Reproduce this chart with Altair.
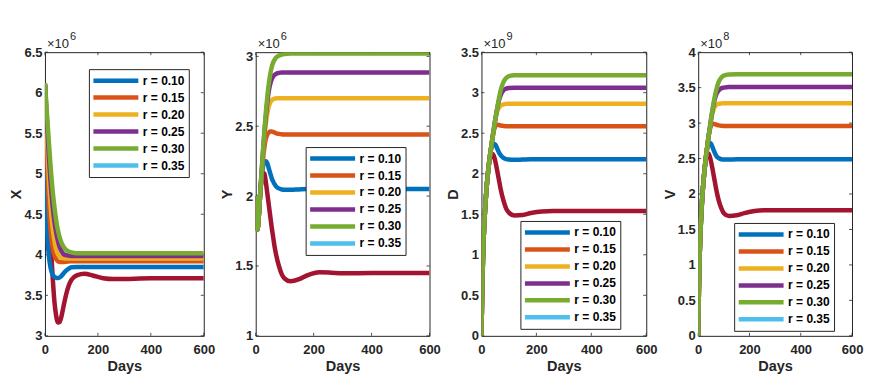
import altair as alt
import pandas as pd

# ---------------- data ----------------
T = [0, 3, 6, 10, 15, 20, 25, 30, 35, 40, 45, 50, 55, 60, 65, 70, 80, 90, 100,
     120, 150, 180, 220, 260, 300, 400, 500, 600]

SERIES = ["r = 0.10", "r = 0.15", "r = 0.20", "r = 0.25", "r = 0.30", "r = 0.35", "r = 0.40"]
LEGEND_SHOWN = ["r = 0.10", "r = 0.15", "r = 0.20", "r = 0.25", "r = 0.30", "r = 0.35"]
COLORS = ["#0072BD", "#D95319", "#EDB120", "#7E2F8E", "#77AC30", "#4DBEEE", "#A2142F"]
DRAW_ORDER = [6, 0, 1, 2, 3, 4]  # dark red curve lies underneath the others

X_TICKS = [0, 200, 400, 600]

# X (x10^6)
X_R10 = [6.1, 5.3, 4.6, 4.2, 3.98, 3.86, 3.79, 3.75, 3.73, 3.72, 3.715, 3.715, 3.72, 3.73, 3.75, 3.77,
         3.805, 3.83, 3.845, 3.85, 3.85, 3.85, 3.85, 3.85, 3.85, 3.85, 3.85, 3.85]
X_R15 = [6.1, 5.75, 5.4, 5.0, 4.6, 4.35, 4.18, 4.07, 4.0, 3.96, 3.935, 3.92, 3.913, 3.91, 3.91, 3.912,
         3.915, 3.918, 3.92, 3.92, 3.92, 3.92, 3.92, 3.92, 3.92, 3.92, 3.92, 3.92]
X_R20 = [6.1, 5.85, 5.6, 5.3, 4.95, 4.68, 4.47, 4.31, 4.19, 4.1, 4.04, 4.0, 3.98, 3.97, 3.962, 3.958,
         3.955, 3.955, 3.955, 3.955, 3.955, 3.955, 3.955, 3.955, 3.955, 3.955, 3.955, 3.955]
X_R25 = [6.1, 5.93, 5.75, 5.5, 5.2, 4.95, 4.74, 4.57, 4.43, 4.32, 4.23, 4.16, 4.1, 4.06, 4.03, 4.01,
         3.995, 3.99, 3.985, 3.985, 3.985, 3.985, 3.985, 3.985, 3.985, 3.985, 3.985, 3.985]
X_R30 = [6.12, 5.98, 5.82, 5.62, 5.38, 5.15, 4.94, 4.76, 4.61, 4.48, 4.37, 4.29, 4.22, 4.17, 4.13, 4.1,
         4.06, 4.04, 4.03, 4.02, 4.02, 4.02, 4.02, 4.02, 4.02, 4.02, 4.02, 4.02]
X_R40 = [6.1, 5.6, 5.15, 4.75, 4.5, 4.25, 3.95, 3.68, 3.45, 3.3, 3.2, 3.165, 3.17, 3.21, 3.28, 3.36,
         3.51, 3.62, 3.69, 3.745, 3.765, 3.745, 3.71, 3.7, 3.702, 3.71, 3.71, 3.71]

# Y (x10^6)
Y_R10 = [2.0, 1.8, 1.76, 1.84, 2.0, 2.13, 2.21, 2.245, 2.25, 2.235, 2.2, 2.165, 2.13, 2.105, 2.085, 2.07,
         2.055, 2.047, 2.045, 2.045, 2.048, 2.05, 2.05, 2.05, 2.05, 2.05, 2.05, 2.05]
Y_R15 = [2.0, 1.8, 1.76, 1.84, 2.0, 2.14, 2.26, 2.35, 2.41, 2.44, 2.455, 2.462, 2.463, 2.46, 2.455, 2.45,
         2.445, 2.442, 2.44, 2.44, 2.44, 2.44, 2.44, 2.44, 2.44, 2.44, 2.44, 2.44]
Y_R20 = [2.0, 1.8, 1.76, 1.84, 2.0, 2.15, 2.29, 2.42, 2.52, 2.59, 2.64, 2.67, 2.685, 2.693, 2.697, 2.7,
         2.7, 2.7, 2.7, 2.7, 2.7, 2.7, 2.7, 2.7, 2.7, 2.7, 2.7, 2.7]
Y_R25 = [2.0, 1.8, 1.76, 1.84, 2.0, 2.16, 2.31, 2.45, 2.57, 2.67, 2.75, 2.8, 2.835, 2.855, 2.867, 2.875,
         2.882, 2.885, 2.885, 2.885, 2.885, 2.885, 2.885, 2.885, 2.885, 2.885, 2.885, 2.885]
Y_R30 = [2.0, 1.8, 1.76, 1.84, 2.0, 2.16, 2.32, 2.47, 2.6, 2.71, 2.8, 2.87, 2.92, 2.955, 2.975, 2.99,
         3.005, 3.012, 3.016, 3.02, 3.02, 3.02, 3.02, 3.02, 3.02, 3.02, 3.02, 3.02]
Y_R40 = [2.0, 1.8, 1.76, 1.84, 2.0, 2.12, 2.165, 2.16, 2.1, 2.02, 1.94, 1.86, 1.78, 1.71, 1.64, 1.585,
         1.5, 1.44, 1.41, 1.39, 1.405, 1.435, 1.455, 1.452, 1.447, 1.45, 1.45, 1.45]

# D (x10^9)
D_R10 = [0.0, 0.6, 1.0, 1.35, 1.65, 1.88, 2.05, 2.2, 2.3, 2.35, 2.37, 2.36, 2.33, 2.29, 2.255, 2.23,
         2.195, 2.18, 2.175, 2.172, 2.175, 2.178, 2.178, 2.178, 2.178, 2.178, 2.178, 2.178]
D_R15 = [0.0, 0.6, 1.0, 1.35, 1.65, 1.88, 2.05, 2.2, 2.32, 2.44, 2.53, 2.58, 2.6, 2.605, 2.6, 2.595,
         2.59, 2.587, 2.585, 2.585, 2.585, 2.585, 2.585, 2.585, 2.585, 2.585, 2.585, 2.585]
D_R20 = [0.0, 0.6, 1.0, 1.35, 1.65, 1.88, 2.05, 2.2, 2.32, 2.44, 2.55, 2.66, 2.74, 2.79, 2.82, 2.84,
         2.855, 2.862, 2.865, 2.865, 2.865, 2.865, 2.865, 2.865, 2.865, 2.865, 2.865, 2.865]
D_R25 = [0.0, 0.6, 1.0, 1.35, 1.65, 1.88, 2.05, 2.2, 2.32, 2.44, 2.55, 2.66, 2.76, 2.85, 2.92, 2.97,
         3.03, 3.05, 3.058, 3.062, 3.062, 3.062, 3.062, 3.062, 3.062, 3.062, 3.062, 3.062]
D_R30 = [0.0, 0.6, 1.0, 1.35, 1.65, 1.88, 2.05, 2.2, 2.32, 2.44, 2.55, 2.66, 2.76, 2.86, 2.95, 3.03,
         3.13, 3.18, 3.205, 3.215, 3.215, 3.215, 3.215, 3.215, 3.215, 3.215, 3.215, 3.215]
D_R40 = [0.0, 0.6, 1.0, 1.35, 1.65, 1.88, 2.05, 2.17, 2.23, 2.245, 2.22, 2.16, 2.08, 1.99, 1.9, 1.81,
         1.67, 1.57, 1.52, 1.485, 1.49, 1.515, 1.535, 1.54, 1.54, 1.54, 1.54, 1.54]

# V (x10^8)
V_R10 = [0.0, 0.7, 1.15, 1.55, 1.9, 2.15, 2.35, 2.52, 2.64, 2.7, 2.72, 2.71, 2.67, 2.62, 2.58, 2.54,
         2.505, 2.49, 2.485, 2.485, 2.49, 2.49, 2.49, 2.49, 2.49, 2.49, 2.49, 2.49]
V_R15 = [0.0, 0.7, 1.15, 1.55, 1.9, 2.15, 2.35, 2.52, 2.66, 2.8, 2.9, 2.96, 2.985, 2.99, 2.985, 2.978,
         2.968, 2.962, 2.96, 2.96, 2.96, 2.96, 2.96, 2.96, 2.96, 2.96, 2.96, 2.96]
V_R20 = [0.0, 0.7, 1.15, 1.55, 1.9, 2.15, 2.35, 2.52, 2.66, 2.8, 2.92, 3.04, 3.13, 3.19, 3.23, 3.255,
         3.272, 3.278, 3.28, 3.28, 3.28, 3.28, 3.28, 3.28, 3.28, 3.28, 3.28, 3.28]
V_R25 = [0.0, 0.7, 1.15, 1.55, 1.9, 2.15, 2.35, 2.52, 2.66, 2.8, 2.92, 3.05, 3.16, 3.26, 3.34, 3.4,
         3.46, 3.49, 3.5, 3.51, 3.51, 3.51, 3.51, 3.51, 3.51, 3.51, 3.51, 3.51]
V_R30 = [0.0, 0.7, 1.15, 1.55, 1.9, 2.15, 2.35, 2.52, 2.66, 2.8, 2.92, 3.05, 3.17, 3.28, 3.38, 3.46,
         3.58, 3.64, 3.67, 3.685, 3.69, 3.69, 3.69, 3.69, 3.69, 3.69, 3.69, 3.69]
V_R40 = [0.0, 0.7, 1.15, 1.55, 1.9, 2.15, 2.35, 2.5, 2.56, 2.57, 2.53, 2.46, 2.37, 2.27, 2.17, 2.07,
         1.91, 1.8, 1.73, 1.69, 1.7, 1.73, 1.76, 1.77, 1.77, 1.77, 1.77, 1.77]

PANELS = [
    {"title": "X", "exp": "6", "domain": [3, 6.5], "ticks": [3, 3.5, 4, 4.5, 5, 5.5, 6, 6.5],
     "series": [X_R10, X_R15, X_R20, X_R25, X_R30, None, X_R40], "width": 159, "legend": (44, 17)},
    {"title": "Y", "exp": "6", "domain": [1, 3.03], "ticks": [1, 1.5, 2, 2.5, 3],
     "series": [Y_R10, Y_R15, Y_R20, Y_R25, Y_R30, None, Y_R40], "width": 174, "legend": (50, 95)},
    {"title": "D", "exp": "9", "domain": [0, 3.5], "ticks": [0, 0.5, 1, 1.5, 2, 2.5, 3, 3.5],
     "series": [D_R10, D_R15, D_R20, D_R25, D_R30, None, D_R40], "width": 165, "legend": (39, 169)},
    {"title": "V", "exp": "8", "domain": [0, 4], "ticks": [0, 0.5, 1, 1.5, 2, 2.5, 3, 3.5, 4],
     "series": [V_R10, V_R15, V_R20, V_R25, V_R30, None, V_R40], "width": 154, "legend": (36, 171)},
]

H = 284
FONT = "Liberation Sans"
AX = "#262626"
TL = 3  # inward tick length


def make_panel(p):
    rows = []
    for k, idx in enumerate(DRAW_ORDER):
        vals = p["series"][idx]
        for t, v in zip(T, vals):
            rows.append({"t": t, "v": v, "series": SERIES[idx], "k": k})
    df = pd.DataFrame(rows)
    W = p["width"]
    yscale = alt.Scale(domain=p["domain"], nice=False, zero=False)
    xscale = alt.Scale(domain=[0, 600], nice=False)
    xaxis = alt.Axis(values=X_TICKS, title="Days", format="d")
    yaxis = alt.Axis(values=p["ticks"], title=p["title"], format=".1~f")

    lines = alt.Chart(df).mark_line(strokeWidth=4.5, clip=True, interpolate="monotone").encode(
        x=alt.X("t:Q", scale=xscale, axis=xaxis),
        y=alt.Y("v:Q", scale=yscale, axis=yaxis),
        color=alt.Color("series:N",
                        scale=alt.Scale(domain=SERIES, range=COLORS),
                        legend=alt.Legend(values=LEGEND_SHOWN, title=None, orient="none",
                                          legendX=p["legend"][0], legendY=p["legend"][1])),
        detail="k:N",
    )

    ydf = pd.DataFrame({"v": p["ticks"]})
    xdf = pd.DataFrame({"t": X_TICKS})
    ytl = alt.Chart(ydf).mark_rule(color=AX, strokeWidth=0.8).encode(
        y=alt.Y("v:Q", scale=yscale, axis=yaxis), x=alt.value(0), x2=alt.value(TL))
    ytr = alt.Chart(ydf).mark_rule(color=AX, strokeWidth=0.8).encode(
        y=alt.Y("v:Q", scale=yscale, axis=yaxis), x=alt.value(W - TL), x2=alt.value(W))
    xtb = alt.Chart(xdf).mark_rule(color=AX, strokeWidth=0.8).encode(
        x=alt.X("t:Q", scale=xscale, axis=xaxis), y=alt.value(H), y2=alt.value(H - TL))
    xtt = alt.Chart(xdf).mark_rule(color=AX, strokeWidth=0.8).encode(
        x=alt.X("t:Q", scale=xscale, axis=xaxis), y=alt.value(0), y2=alt.value(TL))

    base_txt = alt.Chart(pd.DataFrame({"s": ["×10"]})).mark_text(
        align="left", baseline="alphabetic", font=FONT, fontSize=13, color=AX).encode(
        text="s:N", x=alt.value(2), y=alt.value(-4))
    sup_txt = alt.Chart(pd.DataFrame({"s": [p["exp"]]})).mark_text(
        align="left", baseline="alphabetic", font=FONT, fontSize=11, color=AX).encode(
        text="s:N", x=alt.value(25), y=alt.value(-12))

    return alt.layer(ytl, ytr, xtb, xtt, lines, base_txt, sup_txt).properties(width=W, height=H)


chart = alt.hconcat(*[make_panel(p) for p in PANELS], spacing=52, bounds="flush").resolve_scale(
    y="independent", color="independent", x="independent"
).resolve_legend(color="independent").properties(
    padding={"left": 0, "top": 22, "right": 0, "bottom": 0}
).configure_view(
    stroke=AX, strokeWidth=1
).configure_axis(
    labelFont=FONT, labelFontSize=13, labelFontWeight="bold", labelColor=AX,
    titleFont=FONT, titleFontSize=14.5, titleFontWeight="bold", titleColor=AX,
    grid=False, domain=False, ticks=False, labelFlush=False, labelOverlap=False
).configure_axisX(
    labelPadding=8, titlePadding=3
).configure_axisY(
    labelPadding=3, titlePadding=0
).configure_legend(
    symbolType="M-1.4,0H7.6", symbolSize=100, symbolStrokeWidth=4.5, clipHeight=15,
    labelFont=FONT, labelFontSize=12, labelFontWeight="bold", labelColor="#000000",
    labelOffset=35, fillColor="#ffffff", strokeColor="#262626", padding=4, rowPadding=2,
    cornerRadius=0
)

chart.save("out.html", embed_options={"renderer": "svg", "actions": False})
